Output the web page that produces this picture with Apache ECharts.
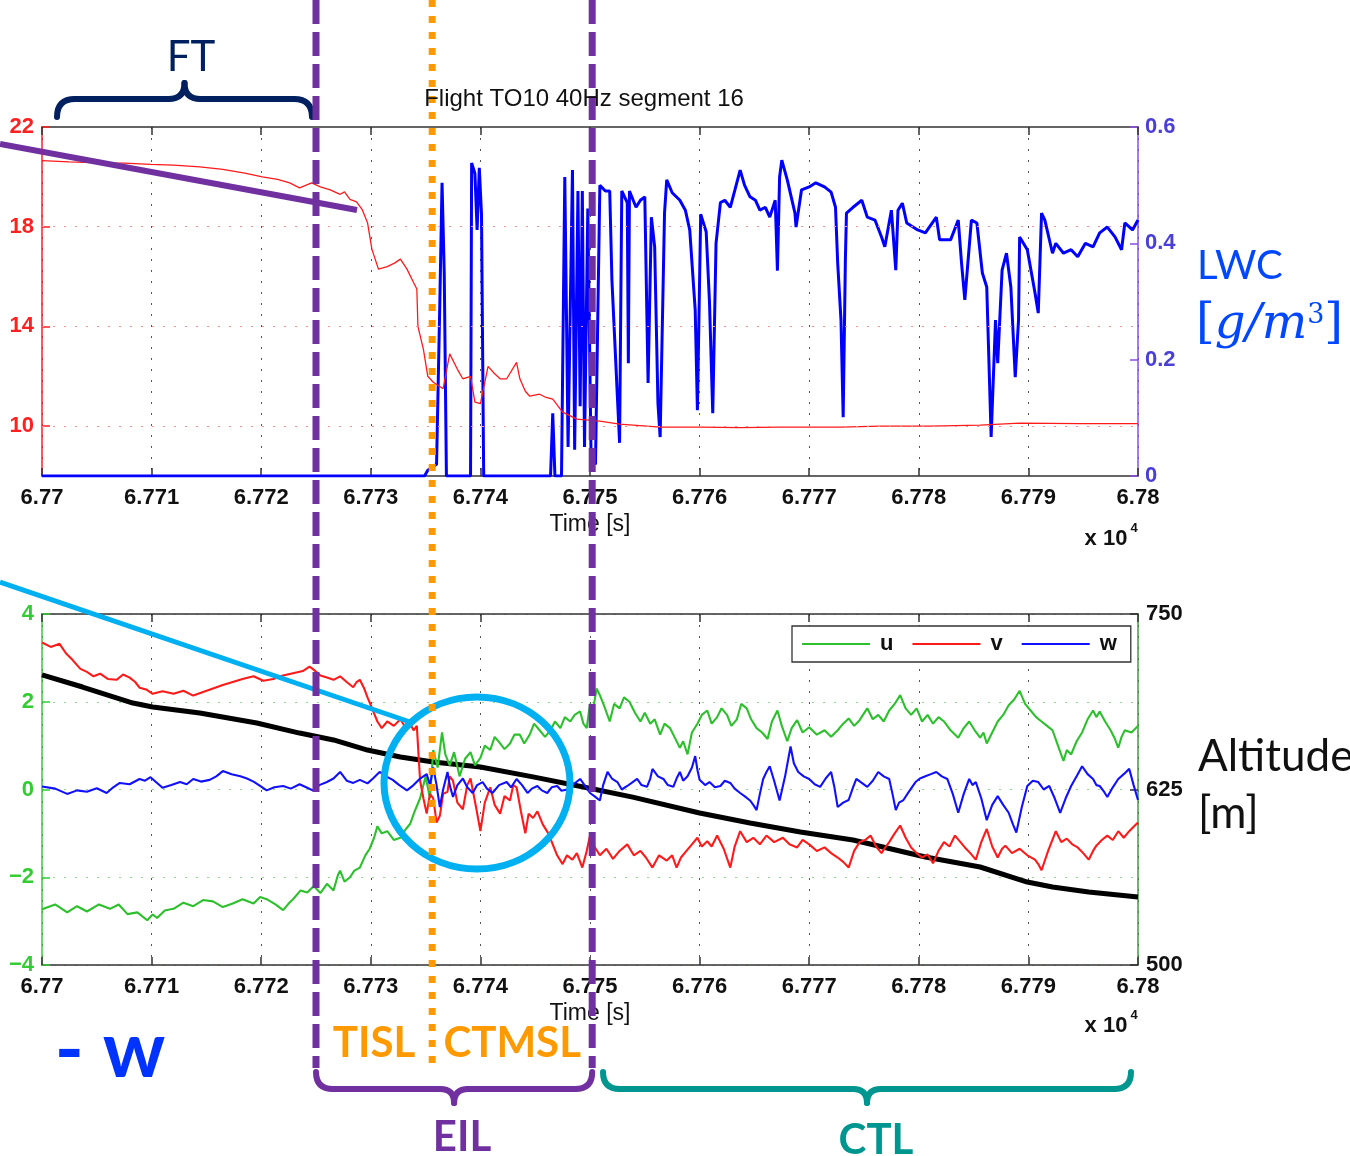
<!DOCTYPE html>
<html>
<head>
<meta charset="utf-8">
<title>Flight TO10 40Hz segment 16</title>
<script src="https://cdn.jsdelivr.net/npm/echarts@6.0.0/dist/echarts.min.js"></script>
<style>
  html, body { margin: 0; padding: 0; background: #fff; }
  #chart { width: 1350px; height: 1156px; }
</style>
</head>
<body>
<div id="chart"></div>
<script>
// time is stored as seconds after T0 (axis shows T0 + s, in units of 1e4 s)
const T0 = 67700;

// top panel: temperature (left axis) and LWC g/m3 (right axis)
const temperature = [
  [0, 20.65], [2.5, 20.6], [5.3, 20.56], [7.5, 20.55], [9.9, 20.5], [12, 20.47], [14.4, 20.4],
  [16.5, 20.3], [18.5, 20.15], [20.1, 20.0], [21.5, 19.9], [22.6, 19.76], [23.5, 19.56], [24.6, 19.76],
  [25.4, 19.6], [26.3, 19.48], [27.2, 19.3], [27.6, 19.4], [28.1, 19.1], [28.7, 19.0], [29.2, 18.7],
  [29.7, 18.16], [30.1, 17.1], [30.7, 16.3], [31.5, 16.4], [32.2, 16.55], [32.7, 16.7], [33.3, 16.3],
  [33.9, 15.76], [34.2, 15.5], [34.3, 14.0], [34.8, 13.08], [35.2, 12.0], [35.7, 11.76], [36.6, 11.5],
  [37.2, 12.9], [37.9, 12.28], [38.4, 11.9], [39.1, 12.0], [39.5, 10.96], [40.0, 10.9], [40.7, 12.4],
  [41.3, 12.1], [41.8, 11.9], [42.4, 11.9], [43.3, 12.56], [43.6, 11.9], [44.1, 11.4], [44.5, 11.2],
  [45.4, 11.28], [46.0, 11.15], [46.6, 11.08], [47.5, 10.56], [48.8, 10.28], [50.9, 10.2], [52.7, 10.08],
  [56.4, 9.96], [60.0, 9.96], [63.7, 9.94], [67.3, 9.96], [72.8, 9.96], [76.5, 10.0], [81.0, 10.0],
  [85.6, 10.04], [89.2, 10.12], [94.7, 10.1], [100, 10.1]
];
const lwc = [
  [0, 0], [34.9, 0], [35.2, 0.01], [36.0, 0.02], [36.3, 0.3], [36.5, 0.504], [36.7, 0.35], [36.9, 0],
  [39.1, 0], [39.2, 0.538], [39.5, 0.52], [39.7, 0.423], [39.9, 0.53], [40.1, 0.45], [40.3, 0],
  [46.4, 0], [46.6, 0.108], [46.8, 0], [47.4, 0], [47.7, 0.514], [48.0, 0.05], [48.4, 0.526],
  [48.6, 0.045], [48.9, 0.49], [49.1, 0.12], [49.3, 0.49], [49.5, 0.05], [49.8, 0.46], [50.1, 0.03],
  [50.5, 0.02], [50.9, 0.5], [51.4, 0.49], [51.8, 0.49], [52.0, 0.337], [52.5, 0.136], [52.7, 0.057],
  [52.9, 0.49], [53.4, 0.47], [53.5, 0.194], [53.6, 0.49], [54.2, 0.462], [54.6, 0.474], [55.0, 0.48],
  [55.3, 0.16], [55.6, 0.445], [55.9, 0.394], [56.2, 0.125], [56.4, 0.067], [56.8, 0.452], [57.0, 0.509],
  [57.5, 0.487], [58.2, 0.474], [58.7, 0.457], [59.1, 0.423], [59.6, 0.285], [59.8, 0.113], [60.1, 0.45],
  [60.6, 0.42], [60.9, 0.30], [61.2, 0.108], [61.5, 0.40], [61.9, 0.47], [62.3, 0.474], [62.8, 0.462],
  [63.2, 0.49], [63.7, 0.526], [64.1, 0.5], [64.6, 0.48], [65.1, 0.474], [65.5, 0.457], [66.0, 0.462],
  [66.4, 0.445], [66.9, 0.474], [67.1, 0.353], [67.3, 0.514], [67.5, 0.543], [68.0, 0.509], [68.7, 0.452],
  [68.8, 0.428], [69.3, 0.492], [70.0, 0.497], [70.6, 0.504], [71.4, 0.497], [72.0, 0.488], [72.4, 0.462],
  [72.6, 0.366], [72.9, 0.268], [73.1, 0.101], [73.3, 0.371], [73.4, 0.452], [74.0, 0.462], [74.8, 0.474],
  [75.3, 0.445], [76.0, 0.44], [76.6, 0.411], [76.9, 0.394], [77.5, 0.457], [77.9, 0.354], [78.1, 0.457],
  [78.5, 0.469], [78.9, 0.435], [79.9, 0.423], [80.6, 0.418], [81.6, 0.445], [81.9, 0.406], [82.9, 0.406],
  [83.6, 0.44], [83.9, 0.366], [84.2, 0.303], [84.8, 0.44], [85.3, 0.435], [85.8, 0.349], [86.2, 0.325],
  [86.6, 0.067], [87.0, 0.268], [87.2, 0.194], [87.6, 0.354], [88.0, 0.383], [88.4, 0.325], [88.8, 0.17],
  [89.1, 0.268], [89.2, 0.411], [89.9, 0.389], [90.6, 0.315], [90.9, 0.28], [91.2, 0.452], [91.5, 0.44],
  [92.2, 0.383], [92.5, 0.4], [93.2, 0.383], [93.9, 0.389], [94.5, 0.377], [95.2, 0.4], [95.9, 0.394],
  [96.5, 0.418], [97.2, 0.428], [97.9, 0.411], [98.5, 0.389], [98.8, 0.435], [99.5, 0.423], [100, 0.44]
];

// bottom panel: wind components u, v, w (left axis) and altitude in m (right axis)
const windU = [
  [0, -2.73], [1.2, -2.62], [2.3, -2.8], [3.2, -2.66], [4.1, -2.78], [5.2, -2.62], [6.2, -2.72], [7.0, -2.62],
  [7.8, -2.84], [8.7, -2.8], [9.6, -2.98], [10.1, -2.85], [10.5, -2.93], [11.2, -2.76], [12.0, -2.72],
  [12.9, -2.58], [13.8, -2.66], [14.7, -2.52], [15.6, -2.55], [16.5, -2.68], [17.4, -2.6], [18.3, -2.5],
  [19.3, -2.6], [19.9, -2.45], [20.5, -2.5], [21.3, -2.62], [22.0, -2.75], [22.5, -2.6], [22.9, -2.5],
  [23.6, -2.3], [24.2, -2.35], [24.8, -2.2], [25.4, -2.36], [26.0, -2.15], [26.6, -2.3], [27.0, -1.95],
  [27.2, -1.85], [27.6, -2.1], [28.1, -2.0], [28.5, -1.85], [29.0, -1.78], [29.5, -1.5], [29.9, -1.35],
  [30.3, -1.1], [30.6, -0.84], [31.0, -1.0], [31.5, -0.95], [32.1, -1.15], [32.7, -1.1], [33.2, -0.9],
  [33.6, -0.78], [34.0, -0.5], [34.5, -0.2], [35.0, 0.3], [35.4, -0.2], [35.7, 0.9], [36.1, 0.5], [36.5, 1.3],
  [36.8, 0.8], [37.2, 0.55], [37.6, 0.85], [38.1, 0.3], [38.6, 0.7], [39.1, 0.85], [39.5, 0.55], [40.0, 0.72],
  [40.4, 1.0], [40.9, 0.9], [41.3, 1.2], [41.8, 1.05], [42.2, 0.92], [42.7, 1.05], [43.1, 1.25], [43.6, 1.25],
  [44.0, 1.05], [44.5, 1.25], [44.9, 1.5], [45.4, 1.35], [45.9, 1.2], [46.4, 1.35], [46.8, 1.55], [47.3, 1.4],
  [47.7, 1.65], [48.2, 1.55], [48.6, 1.7], [49.1, 1.78], [49.4, 1.5], [49.7, 1.4], [50.0, 1.95], [50.3, 1.85],
  [50.6, 2.3], [50.9, 2.15], [51.3, 1.9], [51.8, 1.55], [52.2, 1.95], [52.7, 1.85], [53.1, 2.1], [53.6, 2.0],
  [54.1, 1.75], [54.6, 1.55], [55.0, 1.75], [55.5, 1.5], [55.9, 1.6], [56.4, 1.25], [56.8, 1.5], [57.3, 1.4],
  [57.7, 1.2], [58.2, 0.95], [58.5, 1.1], [58.9, 0.8], [59.3, 1.3], [59.8, 1.5], [60.2, 1.7], [60.7, 1.8],
  [61.1, 1.5], [61.6, 1.65], [62.0, 1.85], [62.5, 1.7], [62.9, 1.45], [63.4, 1.6], [63.8, 1.95], [64.3, 1.85],
  [64.7, 1.6], [65.2, 1.4], [65.7, 1.3], [66.2, 1.15], [66.6, 1.55], [67.1, 1.8], [67.5, 1.45], [68.0, 1.1],
  [68.4, 1.4], [68.9, 1.58], [69.4, 1.3], [70.0, 1.42], [70.7, 1.25], [71.4, 1.35], [72.0, 1.2], [72.6, 1.35],
  [73.1, 1.5], [73.6, 1.62], [74.1, 1.45], [74.6, 1.58], [74.9, 1.7], [75.3, 1.85], [75.8, 1.6], [76.3, 1.7],
  [76.8, 1.55], [77.3, 1.8], [77.8, 1.95], [78.3, 2.15], [78.8, 1.85], [79.3, 1.7], [79.8, 1.85], [80.3, 1.55],
  [80.8, 1.7], [81.3, 1.5], [81.8, 1.65], [82.3, 1.55], [82.9, 1.35], [83.6, 1.18], [84.1, 1.4], [84.6, 1.55],
  [85.1, 1.35], [85.6, 1.18], [85.9, 1.3], [86.2, 1.05], [86.7, 1.3], [87.2, 1.55], [87.7, 1.7], [88.2, 1.92],
  [88.7, 2.05], [89.2, 2.25], [89.7, 1.95], [90.2, 1.8], [90.7, 1.65], [91.2, 1.55], [91.7, 1.45], [92.2, 1.35],
  [92.7, 1.0], [93.2, 0.65], [93.5, 0.9], [93.9, 0.8], [94.4, 1.1], [94.9, 1.3], [95.4, 1.6], [95.9, 1.8],
  [96.2, 1.65], [96.5, 1.78], [97.0, 1.55], [97.5, 1.35], [97.9, 1.15], [98.2, 0.95], [98.5, 1.2], [98.8, 1.35],
  [99.4, 1.3], [100, 1.45]
];
const windV = [
  [0, 3.35], [0.8, 3.25], [1.6, 3.32], [2.2, 3.1], [2.8, 2.95], [3.5, 2.75], [4.1, 2.68], [4.7, 2.58],
  [5.3, 2.64], [6.0, 2.52], [6.8, 2.5], [7.4, 2.62], [8.0, 2.55], [8.5, 2.45], [8.9, 2.32], [9.5, 2.28],
  [10.1, 2.18], [11.0, 2.24], [12.0, 2.18], [12.9, 2.25], [13.8, 2.14], [14.7, 2.22], [15.6, 2.3], [16.5, 2.38],
  [17.4, 2.45], [18.3, 2.52], [19.3, 2.58], [20.2, 2.48], [21.1, 2.52], [22.0, 2.6], [22.9, 2.65], [23.8, 2.7],
  [24.4, 2.8], [24.7, 2.75], [25.4, 2.6], [26.0, 2.55], [26.6, 2.5], [27.2, 2.58], [27.8, 2.45], [28.4, 2.33],
  [28.7, 2.45], [29.0, 2.5], [29.4, 2.3], [29.7, 2.1], [30.2, 1.8], [30.6, 1.55], [31.0, 1.4], [31.5, 1.55],
  [32.1, 1.45], [32.7, 1.6], [33.2, 1.4], [33.6, 1.5], [33.9, 1.35], [34.2, 1.45], [34.4, 0.6], [34.5, 0.2],
  [34.8, -0.2], [35.1, -0.55], [35.4, -0.1], [35.7, -0.2], [36.0, -0.75], [36.3, -0.6], [36.6, -0.1],
  [37.0, -0.05], [37.2, 0.3], [37.5, 0.2], [37.9, -0.3], [38.4, -0.45], [38.8, 0.1], [39.1, 0.25], [39.6, -0.4],
  [40.0, -0.95], [40.4, -0.3], [40.9, 0.05], [41.3, -0.35], [41.8, -0.55], [42.2, -0.15], [42.7, -0.25],
  [43.0, 0.1], [43.3, 0.05], [43.7, -0.5], [44.1, -1.0], [44.4, -0.55], [44.8, -0.65], [45.2, -0.5],
  [45.7, -0.8], [46.2, -1.0], [46.6, -1.25], [47.0, -1.5], [47.5, -1.7], [47.9, -1.5], [48.4, -1.6],
  [48.8, -1.45], [49.3, -1.78], [49.7, -1.4], [50.0, -1.05], [50.4, -1.3], [50.9, -1.5], [51.5, -1.35],
  [52.1, -1.58], [52.7, -1.4], [53.4, -1.25], [54.0, -1.5], [54.6, -1.4], [55.1, -1.55], [55.7, -1.78],
  [56.3, -1.5], [57.0, -1.62], [57.5, -1.5], [57.9, -1.78], [58.3, -1.55], [58.8, -1.4], [59.3, -1.25],
  [59.8, -1.1], [60.2, -1.3], [60.7, -1.18], [61.1, -1.3], [61.6, -1.05], [62.2, -1.35], [62.8, -1.78],
  [63.2, -1.3], [63.7, -0.95], [64.3, -1.2], [64.9, -1.1], [65.5, -1.25], [66.1, -1.05], [66.8, -1.2],
  [67.6, -1.1], [68.2, -1.25], [68.9, -1.32], [69.4, -1.15], [70.0, -1.25], [70.7, -1.4], [71.4, -1.32],
  [72.0, -1.45], [72.6, -1.55], [73.1, -1.65], [73.6, -1.78], [74.1, -1.4], [74.6, -1.2], [75.1, -1.15],
  [75.6, -1.05], [76.1, -1.3], [76.6, -1.45], [77.0, -1.3], [77.3, -1.2], [77.8, -1.0], [78.3, -0.82],
  [78.8, -1.1], [79.3, -1.32], [79.8, -1.45], [80.3, -1.55], [80.8, -1.48], [81.3, -1.68], [81.8, -1.4],
  [82.3, -1.2], [82.8, -1.3], [83.3, -1.05], [83.8, -1.2], [84.2, -1.32], [84.7, -1.45], [85.2, -1.6],
  [85.7, -1.2], [86.2, -0.9], [86.7, -1.3], [87.2, -1.55], [87.6, -1.35], [87.9, -1.28], [88.5, -1.45],
  [89.2, -1.35], [89.9, -1.5], [90.6, -1.6], [90.9, -1.7], [91.2, -1.84], [91.8, -1.4], [92.5, -0.95],
  [93.0, -1.2], [93.5, -1.12], [94.0, -1.25], [94.5, -1.32], [95.0, -1.45], [95.5, -1.6], [95.9, -1.4],
  [96.2, -1.28], [96.7, -1.15], [97.2, -1.05], [97.7, -1.15], [98.2, -0.95], [98.7, -1.1], [99.2, -0.95],
  [99.6, -0.85], [100, -0.75]
];
const windW = [
  [0, 0.07], [1.2, 0.02], [2.3, -0.1], [3.2, -0.02], [4.1, -0.05], [5.0, 0.03], [5.9, -0.08], [6.5, 0.05],
  [7.1, 0.15], [8.0, 0.12], [8.9, 0.24], [9.4, 0.2], [9.9, 0.28], [10.5, 0.15], [11.0, 0.04], [11.8, 0.1],
  [12.6, 0.17], [13.2, 0.12], [13.8, 0.24], [14.5, 0.18], [15.3, 0.22], [15.9, 0.3], [16.5, 0.42], [17.3, 0.35],
  [18.1, 0.3], [18.7, 0.25], [19.3, 0.18], [19.9, 0.08], [20.5, -0.02], [21.2, 0.05], [22.0, 0.08], [22.7, 0.02],
  [23.5, 0.12], [24.1, 0.05], [24.7, -0.02], [25.3, 0.1], [26.0, 0.17], [26.6, 0.25], [27.2, 0.4], [27.8, 0.2],
  [28.4, 0.15], [29.0, 0.22], [29.7, 0.14], [30.2, 0.25], [30.8, 0.4], [31.4, 0.3], [32.0, 0.22], [32.6, 0.1],
  [33.3, -0.02], [33.9, 0.1], [34.5, 0.25], [35.1, 0.35], [35.4, 0.1], [35.7, 0.5], [36.0, 0.1], [36.3, -0.4],
  [36.6, 0.0], [37.0, 0.4], [37.2, 0.1], [37.5, -0.17], [37.9, 0.1], [38.4, 0.25], [38.8, 0.05], [39.3, -0.08],
  [39.7, 0.1], [40.2, 0.17], [40.6, 0.02], [41.1, -0.08], [41.7, 0.1], [42.4, 0.17], [42.8, 0.05], [43.3, 0.24],
  [43.8, 0.1], [44.3, -0.08], [44.7, 0.02], [45.2, 0.08], [45.6, -0.02], [46.1, -0.08], [46.5, 0.05],
  [47.0, 0.08], [47.4, -0.03], [47.9, 0.0], [48.5, 0.12], [49.1, 0.24], [49.5, 0.1], [50.0, -0.08],
  [50.4, -0.15], [50.9, -0.25], [51.2, 0.1], [51.6, 0.4], [52.0, 0.25], [52.5, 0.17], [52.9, 0.0], [53.4, 0.08],
  [53.8, 0.15], [54.3, 0.24], [54.7, 0.1], [55.2, 0.06], [55.5, 0.25], [55.7, 0.47], [56.2, 0.3], [56.7, 0.24],
  [57.1, 0.1], [57.6, 0.06], [57.9, 0.25], [58.2, 0.4], [58.5, 0.2], [58.9, 0.3], [59.3, 0.5], [59.6, 0.76],
  [59.8, 0.45], [60.0, 0.22], [60.5, 0.1], [60.9, 0.17], [61.4, 0.05], [61.9, 0.08], [62.3, 0.2], [62.8, 0.15],
  [63.2, 0.02], [63.7, -0.08], [64.1, -0.15], [64.6, -0.25], [64.9, -0.35], [65.2, -0.47], [65.5, -0.1],
  [65.8, 0.24], [66.1, 0.4], [66.4, 0.53], [66.8, 0.2], [67.3, -0.25], [67.8, 0.3], [68.3, 0.98], [68.6, 0.6],
  [69.0, 0.4], [69.5, 0.3], [70.0, 0.24], [70.5, 0.12], [71.0, 0.06], [71.5, 0.25], [72.0, 0.4], [72.3, 0.05],
  [72.6, -0.4], [73.1, -0.3], [73.6, -0.24], [74.0, 0.05], [74.3, 0.24], [74.8, 0.15], [75.3, 0.06],
  [75.8, 0.2], [76.3, 0.4], [76.8, 0.3], [77.3, 0.24], [77.6, -0.1], [77.9, -0.47], [78.2, -0.3], [78.6, -0.24],
  [79.1, -0.05], [79.7, 0.17], [80.1, 0.25], [80.6, 0.3], [81.1, 0.35], [81.6, 0.4], [82.1, 0.3], [82.6, 0.24],
  [83.1, -0.1], [83.6, -0.53], [84.1, -0.1], [84.6, 0.24], [84.9, 0.1], [85.2, 0.17], [85.7, -0.2],
  [86.2, -0.7], [86.7, -0.35], [87.2, -0.15], [87.7, -0.35], [88.2, -0.53], [88.6, -0.8], [88.9, -0.98],
  [89.4, -0.4], [89.9, 0.08], [90.4, 0.2], [90.9, 0.17], [91.4, 0.0], [91.9, 0.08], [92.4, -0.2], [92.9, -0.53],
  [93.4, -0.2], [93.9, 0.08], [94.4, 0.3], [94.9, 0.53], [95.4, 0.35], [95.9, 0.24], [96.2, 0.1], [96.5, 0.08],
  [96.9, -0.05], [97.2, -0.17], [97.7, 0.05], [98.2, 0.24], [98.7, 0.35], [99.2, 0.47], [99.6, 0.1], [100, -0.24]
];
const altitude = [
  [0, 706.6], [3.7, 698], [8.3, 686.6], [10.1, 683.8], [14.4, 679.5], [19.6, 672.4], [23.5, 665.2],
  [26.6, 660.3], [29.7, 653.1], [32.7, 648.1], [35.7, 644.6], [40.0, 641], [44.8, 634], [49.4, 626.8],
  [53.9, 619.6], [60.0, 608.3], [64.6, 601.1], [69.2, 594.7], [74.0, 589], [80.6, 576.9], [85.6, 569.8],
  [89.9, 559.1], [92.2, 555.6], [95.5, 552], [100, 548.4]
];

// tick labels / grid values
const tempTicks = [10, 14, 18, 22];
const tempGrid = [10, 14, 18];
// layer boundaries in seconds: EIL start, TISL/CTMSL split, EIL end
const layerBounds = [25.0, 35.6, 50.2];

const abs = arr => arr.map(p => [T0 + p[0], p[1]]);
const fmtTime = v => String(+(v / 10000).toFixed(4));
const minus = v => (v < 0 ? '\u2212' + Math.abs(v) : String(v));
const FONT = 'Liberation Sans';
const tickFont = { fontFamily: FONT, fontSize: 22, fontWeight: 'bold' };

const xBase = (grid, pos, showLabel, name) => ({
  type: 'value', gridIndex: grid, position: pos, min: T0, max: T0 + 100, interval: 10,
  name: name || '', nameLocation: 'middle', nameGap: 37,
  nameTextStyle: { fontFamily: FONT, fontSize: 23, color: '#111' },
  axisLine: { show: true, onZero: false, lineStyle: { color: '#333', width: 1.5 } },
  axisTick: { show: true, inside: true, length: 8, lineStyle: { color: '#333', width: 1.5 } },
  axisLabel: Object.assign({ show: showLabel, formatter: fmtTime, color: '#111', margin: 11 }, tickFont),
  splitLine: { show: showLabel, lineStyle: { color: '#555', type: [2, 9], width: 1 } }
});

const option = {
  animation: false,
  backgroundColor: '#fff',
  grid: [
    { left: 42, top: 127, width: 1096, height: 349 },
    { left: 42, top: 614, width: 1096, height: 351 }
  ],
  legend: {
    data: ['u', 'v', 'w'],
    left: 792, top: 626,
    icon: 'rect', itemWidth: 68, itemHeight: 2, itemGap: 19,
    padding: [7, 14, 7, 10],
    borderColor: '#333', borderWidth: 1.3,
    backgroundColor: '#fff',
    textStyle: { fontFamily: FONT, fontSize: 22, fontWeight: 'bold', color: '#111', padding: [0, 0, 0, 5] }
  },
  xAxis: [
    xBase(0, 'bottom', true, 'Time [s]'),
    xBase(0, 'top', false),
    xBase(1, 'bottom', true, 'Time [s]'),
    xBase(1, 'top', false)
  ],
  yAxis: [
    {
      type: 'value', gridIndex: 0, position: 'left', min: 8, max: 22,
      axisLine: { show: true, lineStyle: { color: '#ff2020', width: 1.5 } },
      axisTick: { show: true, inside: true, length: 8, customValues: tempTicks, lineStyle: { color: '#ff2020', width: 1.5 } },
      axisLabel: Object.assign({ customValues: tempTicks, color: '#ff2020', margin: 8 }, tickFont),
      splitLine: { show: false }
    },
    {
      type: 'value', gridIndex: 0, position: 'right', min: 0, max: 0.6, interval: 0.2,
      axisLine: { show: true, lineStyle: { color: '#8a4fe0', width: 1.5 } },
      axisTick: { show: true, inside: true, length: 8, lineStyle: { color: '#8a4fe0', width: 1.5 } },
      axisLabel: Object.assign({ formatter: v => String(+v.toFixed(1)), color: '#4a3fd6', margin: 7 }, tickFont),
      splitLine: { show: false }
    },
    {
      type: 'value', gridIndex: 1, position: 'left', min: -4, max: 4, interval: 2,
      axisLine: { show: true, lineStyle: { color: '#33cc33', width: 1.5 } },
      axisTick: { show: true, inside: true, length: 8, lineStyle: { color: '#33cc33', width: 1.5 } },
      axisLabel: Object.assign({ formatter: minus, color: '#33cc33', margin: 8 }, tickFont),
      splitLine: { show: true, lineStyle: { color: '#8fdc8f', type: [2, 9], width: 1 } }
    },
    {
      type: 'value', gridIndex: 1, position: 'right', min: 500, max: 750, interval: 125,
      axisLine: { show: true, lineStyle: { color: '#3aa03a', width: 1.5 } },
      axisTick: { show: true, inside: true, length: 8, lineStyle: { color: '#333', width: 1.5 } },
      axisLabel: Object.assign({ color: '#111', margin: 8 }, tickFont),
      splitLine: { show: false }
    }
  ],
  series: [
    {
      name: 'T', type: 'line', xAxisIndex: 0, yAxisIndex: 0, data: abs(temperature),
      symbol: 'none', lineStyle: { color: '#ff1a1a', width: 1.3 }, z: 3,
      markLine: {
        silent: true, symbol: 'none', label: { show: false },
        lineStyle: { color: '#ff8c8c', type: [2, 9], width: 1 },
        data: tempGrid.map(v => ({ yAxis: v }))
      }
    },
    {
      name: 'LWC', type: 'line', xAxisIndex: 0, yAxisIndex: 1, data: abs(lwc),
      symbol: 'none', lineStyle: { color: '#0000ff', width: 3 }, z: 2
    },
    {
      name: 'Altitude', type: 'line', xAxisIndex: 2, yAxisIndex: 3, data: abs(altitude),
      symbol: 'none', lineStyle: { color: '#000', width: 5 }, z: 2
    },
    {
      name: 'u', type: 'line', xAxisIndex: 2, yAxisIndex: 2, data: abs(windU),
      symbol: 'none', lineStyle: { color: '#2cc12c', width: 2.1 }, itemStyle: { color: '#2cc12c' }, z: 3
    },
    {
      name: 'v', type: 'line', xAxisIndex: 2, yAxisIndex: 2, data: abs(windV),
      symbol: 'none', lineStyle: { color: '#ff1a1a', width: 2.1 }, itemStyle: { color: '#ff1a1a' }, z: 3
    },
    {
      name: 'w', type: 'line', xAxisIndex: 2, yAxisIndex: 2, data: abs(windW),
      symbol: 'none', lineStyle: { color: '#1010ff', width: 2.1 }, itemStyle: { color: '#1010ff' }, z: 3
    }
  ]
};

const chart = echarts.init(document.getElementById('chart'), null, { renderer: 'canvas' });
chart.setOption(option);

// annotation overlay
const px = s => chart.convertToPixel({ xAxisIndex: 0 }, T0 + s);
const [xEil0, xSplit, xEil1] = layerBounds.map(px);

function brace(x1, x2, yEnd, yBar, yTip, color) {
  const mid = (x1 + x2) / 2;
  const r = Math.abs(yBar - yEnd);
  const rt = Math.abs(yTip - yBar);
  const st = { stroke: color, lineWidth: 6, fill: null, lineCap: 'round' };
  const curve = (a, c, b) => ({
    type: 'bezierCurve', z: 100,
    shape: { x1: a[0], y1: a[1], cpx1: c[0], cpy1: c[1], x2: b[0], y2: b[1] }, style: st
  });
  const seg = (a, b) => ({ type: 'line', z: 100, shape: { x1: a[0], y1: a[1], x2: b[0], y2: b[1] }, style: st });
  return [
    curve([x1, yEnd], [x1, yBar], [x1 + r, yBar]),
    seg([x1 + r, yBar], [mid - rt, yBar]),
    curve([mid - rt, yBar], [mid, yBar], [mid, yTip]),
    curve([mid, yTip], [mid, yBar], [mid + rt, yBar]),
    seg([mid + rt, yBar], [x2 - r, yBar]),
    curve([x2 - r, yBar], [x2, yBar], [x2, yEnd])
  ];
}

const txt = (text, x, y, size, color, extra) => ({
  type: 'text', x: x, y: y, z: 110,
  style: Object.assign({
    text: text, fontSize: size, fontFamily: 'Lato', fill: color, align: 'center', verticalAlign: 'middle'
  }, extra || {})
});

const vline = (x, color, dash) => ({
  type: 'line', z: 105,
  shape: { x1: x, y1: 0, x2: x, y2: 1068 },
  style: { stroke: color, lineWidth: 7, lineDash: dash, lineCap: 'butt' }
});

const serifBlue = { fontFamily: 'DejaVu Serif', fontSize: 48, fill: '#0047ff' };

const graphic = [
  // title
  txt('Flight TO10 40Hz segment 16', 584, 99, 24, '#111', { fontFamily: FONT }),
  // x 10^4 labels
  txt('x 10', 1106, 539, 22, '#111', { fontFamily: FONT, fontWeight: 'bold' }),
  txt('4', 1134, 528, 13, '#111', { fontFamily: FONT, fontWeight: 'bold' }),
  txt('x 10', 1106, 1026, 22, '#111', { fontFamily: FONT, fontWeight: 'bold' }),
  txt('4', 1134, 1015, 13, '#111', { fontFamily: FONT, fontWeight: 'bold' }),
  // pointer lines and circle
  { type: 'line', z: 100, shape: { x1: 0, y1: 144, x2: 357, y2: 210 }, style: { stroke: '#7030a0', lineWidth: 6 } },
  { type: 'line', z: 100, shape: { x1: 0, y1: 582, x2: 413, y2: 723 }, style: { stroke: '#00b0f0', lineWidth: 5 } },
  { type: 'ellipse', z: 100, shape: { cx: 477, cy: 783, rx: 93, ry: 86 }, style: { stroke: '#00b0f0', lineWidth: 7, fill: null } },
  // layer boundaries
  vline(xEil0, '#7030a0', [24, 8]),
  vline(xEil1, '#7030a0', [24, 8]),
  vline(xSplit, '#ff9900', [7, 9]),
  // braces
  ...brace(57, 312, 117, 99, 83, '#002060'),
  ...brace(xEil0, xEil1, 1072, 1089, 1103, '#7030a0'),
  ...brace(603, 1131, 1072, 1089, 1103, '#009690'),
  // labels
  txt('FT', 191, 57, 42, '#002060'),
  txt('TISL', (xEil0 + xSplit) / 2, 1043, 42, '#ff9900', { fontWeight: 'bold' }),
  txt('CTMSL', (xSplit + xEil1) / 2, 1043, 42, '#ff9900', { fontWeight: 'bold' }),
  txt('EIL', 462, 1137, 42, '#7030a0', { fontWeight: 'bold' }),
  txt('CTL', 876, 1140, 42, '#009690', { fontWeight: 'bold' }),
  txt('- w', 110, 1052, 78, '#0033ff', { fontWeight: 'bold' }),
  txt('LWC', 1197, 266, 40, '#0047ff', { align: 'left' }),
  {
    type: 'text', x: 1196, y: 326, z: 110,
    style: {
      text: '{b|[}{i|g/m}{s|3}{b|]}', align: 'left', verticalAlign: 'middle',
      rich: {
        b: serifBlue,
        i: Object.assign({}, serifBlue, { fontStyle: 'italic' }),
        s: Object.assign({}, serifBlue, { fontSize: 27, verticalAlign: 'top' })
      }
    }
  },
  txt('Altitude', 1198, 757, 44, '#111', { align: 'left' }),
  txt('[m]', 1198, 814, 44, '#111', { align: 'left' })
];

chart.setOption({ graphic: graphic });
</script>
</body>
</html>
